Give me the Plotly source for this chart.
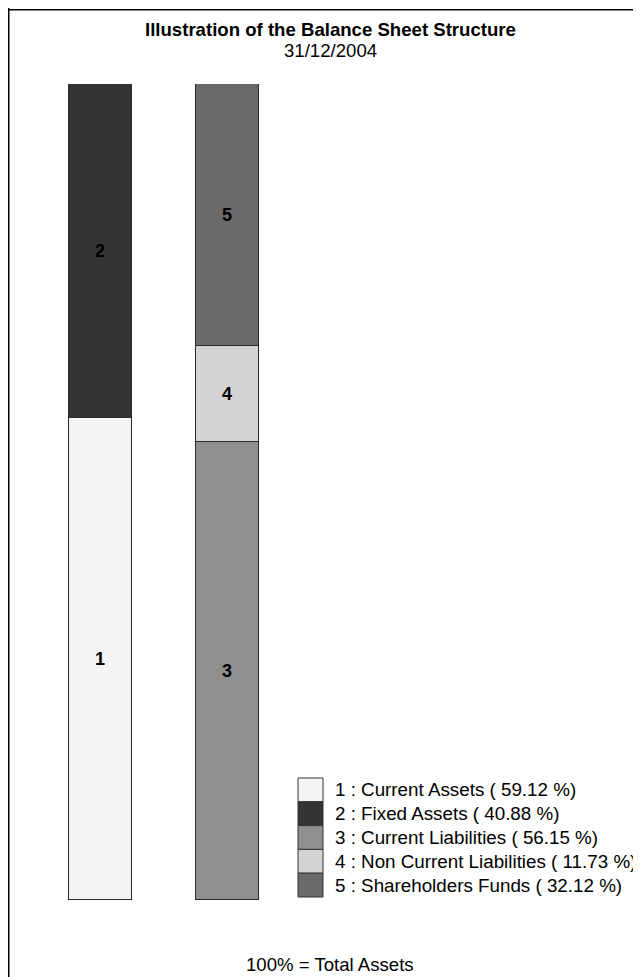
import plotly.graph_objects as go

# ---- data ----
numbers = ["1", "2", "3", "4", "5"]
names = ["Current Assets", "Fixed Assets", "Current Liabilities",
         "Non Current Liabilities", "Shareholders Funds"]
values = [59.12, 40.88, 56.15, 11.73, 32.12]
columns = [0, 0, 1, 1, 1]
colors = ["#f4f4f4", "#333333", "#8f8f8f", "#d3d3d3", "#6a6a6a"]
title = "Illustration of the Balance Sheet Structure"
subtitle = "31/12/2004"
footer = "100% = Total Assets"

# page body has an 8px margin; work in window pixels and convert
OFF = 8
W, H = 641 - OFF, 977 - OFF
FONT = "Liberation Sans, Arial, Helvetica, sans-serif"


def py(p):
    return 1 - (p - OFF) / H


def px(p):
    return (p - OFF) / W


fig = go.Figure()
for n, v, c, col in zip(numbers, values, columns, colors):
    fig.add_trace(go.Bar(
        x=[c], y=[v], width=0.5,
        marker=dict(color=col, line=dict(color="#2a2a2a", width=1)),
        text=[n], textposition="inside", insidetextanchor="middle",
        textangle=0, constraintext="none",
        textfont=dict(family=FONT, size=18, color="black", weight="bold"),
        hoverinfo="skip", showlegend=False,
    ))

shapes = [
    dict(type="line", xref="paper", yref="paper", x0=px(8.75), x1=px(8.75), y0=0, y1=1,
         line=dict(color="black", width=1.5)),
    dict(type="line", xref="paper", yref="paper", x0=px(8), x1=1, y0=py(9.75), y1=py(9.75),
         line=dict(color="black", width=1.5)),
]
annotations = [
    dict(text="<b>" + title + "</b>", x=px(330), y=py(30), xref="paper", yref="paper",
         xanchor="center", yanchor="middle", showarrow=False,
         font=dict(family=FONT, size=18.6, color="black")),
    dict(text=subtitle, x=px(330), y=py(50.5), xref="paper", yref="paper",
         xanchor="center", yanchor="middle", showarrow=False,
         font=dict(family=FONT, size=18.6, color="black")),
    dict(text=footer, x=px(330), y=py(964), xref="paper", yref="paper",
         xanchor="center", yanchor="middle", showarrow=False,
         font=dict(family=FONT, size=18.6, color="black")),
]

# legend drawn as boxes + labels
row_h = 23.8
top0 = 778
for i, (n, name, v, col) in enumerate(zip(numbers, names, values, colors)):
    t = top0 + i * row_h
    shapes.append(dict(type="rect", xref="paper", yref="paper",
                       x0=px(298), x1=px(323), y0=py(t + row_h), y1=py(t),
                       fillcolor=col, line=dict(color="#333333", width=1)))
    annotations.append(dict(text=f"{n} : {name} ( {v:.2f} %)",
                            x=px(333), y=py(t + row_h / 2), xref="paper", yref="paper",
                            xanchor="left", yanchor="middle", showarrow=False,
                            font=dict(family=FONT, size=18.8, color="black")))

x0_px = 100.5 - OFF
unit = 127.0
fig.update_layout(
    width=W, height=H,
    margin=dict(l=0, r=0, t=0, b=0),
    paper_bgcolor="white", plot_bgcolor="white",
    barmode="stack", bargap=0,
    showlegend=False,
    xaxis=dict(visible=False, domain=[0, 1],
               range=[-x0_px / unit, (W - x0_px) / unit]),
    yaxis=dict(visible=False, domain=[py(900), py(84)], range=[0, 100]),
    shapes=shapes, annotations=annotations,
    font=dict(family=FONT),
)

fig.write_html("out.html")
